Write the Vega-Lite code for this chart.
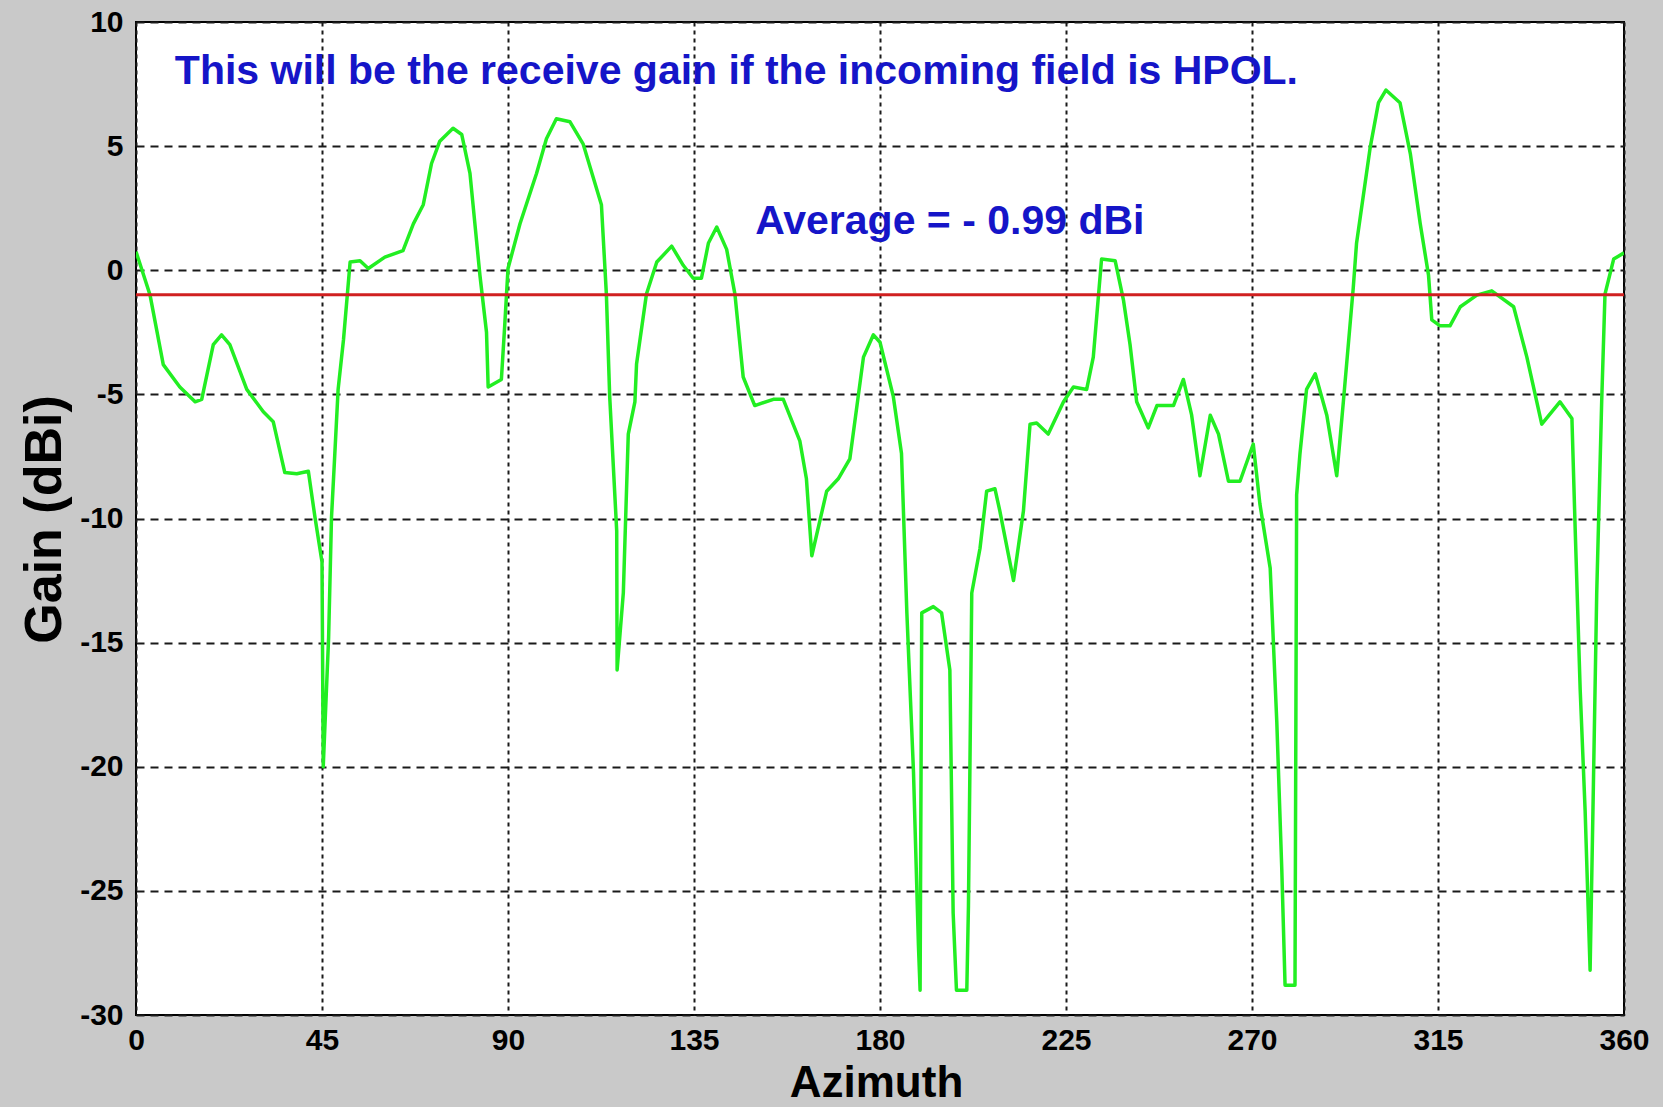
{
  "$schema": "https://vega.github.io/schema/vega-lite/v6.json",
  "width": 1488,
  "height": 993,
  "autosize": {"type": "none"},
  "padding": {"left": 136, "top": 22, "right": 39, "bottom": 92},
  "background": "#c9c9c9",
  "view": {"fill": "white", "stroke": "black", "strokeWidth": 2},
  "datasets": {
    "gain": [
      {"azimuth": 0, "gain": 0.75}, {"azimuth": 3.4, "gain": -1.0}, {"azimuth": 6.6, "gain": -3.8},
      {"azimuth": 10.6, "gain": -4.7}, {"azimuth": 14.3, "gain": -5.3}, {"azimuth": 15.9, "gain": -5.2},
      {"azimuth": 18.7, "gain": -3.0}, {"azimuth": 20.7, "gain": -2.6}, {"azimuth": 22.7, "gain": -3.0},
      {"azimuth": 26.8, "gain": -4.8}, {"azimuth": 30.8, "gain": -5.7}, {"azimuth": 33.2, "gain": -6.1},
      {"azimuth": 36.0, "gain": -8.15}, {"azimuth": 38.9, "gain": -8.2}, {"azimuth": 41.7, "gain": -8.1},
      {"azimuth": 43.3, "gain": -9.95}, {"azimuth": 45.0, "gain": -11.75}, {"azimuth": 45.3, "gain": -20.0},
      {"azimuth": 46.6, "gain": -14.8}, {"azimuth": 47.3, "gain": -9.95}, {"azimuth": 48.1, "gain": -7.4},
      {"azimuth": 48.9, "gain": -4.8}, {"azimuth": 50.2, "gain": -2.8}, {"azimuth": 51.8, "gain": 0.33},
      {"azimuth": 54.2, "gain": 0.38}, {"azimuth": 56.2, "gain": 0.07}, {"azimuth": 60.2, "gain": 0.53},
      {"azimuth": 64.6, "gain": 0.79}, {"azimuth": 67.1, "gain": 1.87}, {"azimuth": 69.5, "gain": 2.64},
      {"azimuth": 71.5, "gain": 4.3}, {"azimuth": 73.5, "gain": 5.2}, {"azimuth": 76.7, "gain": 5.72},
      {"azimuth": 78.8, "gain": 5.47}, {"azimuth": 80.8, "gain": 3.9}, {"azimuth": 83.2, "gain": -0.19},
      {"azimuth": 84.8, "gain": -2.5}, {"azimuth": 85.2, "gain": -4.7}, {"azimuth": 88.4, "gain": -4.4},
      {"azimuth": 89.2, "gain": -2.24}, {"azimuth": 90.0, "gain": 0.07}, {"azimuth": 92.9, "gain": 1.87},
      {"azimuth": 96.9, "gain": 3.9}, {"azimuth": 99.3, "gain": 5.3}, {"azimuth": 101.7, "gain": 6.1},
      {"azimuth": 105.0, "gain": 5.98}, {"azimuth": 108.2, "gain": 5.08}, {"azimuth": 112.6, "gain": 2.64},
      {"azimuth": 113.8, "gain": -0.96}, {"azimuth": 114.6, "gain": -5.07}, {"azimuth": 116.3, "gain": -10.5},
      {"azimuth": 116.4, "gain": -16.1}, {"azimuth": 117.9, "gain": -13.0}, {"azimuth": 119.1, "gain": -6.6},
      {"azimuth": 120.7, "gain": -5.3}, {"azimuth": 121.1, "gain": -3.78}, {"azimuth": 123.5, "gain": -0.96},
      {"azimuth": 126.0, "gain": 0.33}, {"azimuth": 129.6, "gain": 0.97}, {"azimuth": 132.4, "gain": 0.2},
      {"azimuth": 134.8, "gain": -0.32}, {"azimuth": 136.8, "gain": -0.32}, {"azimuth": 138.5, "gain": 1.1},
      {"azimuth": 140.5, "gain": 1.74}, {"azimuth": 142.9, "gain": 0.84}, {"azimuth": 144.9, "gain": -0.96},
      {"azimuth": 146.9, "gain": -4.3}, {"azimuth": 149.7, "gain": -5.45}, {"azimuth": 154.2, "gain": -5.2},
      {"azimuth": 156.6, "gain": -5.2}, {"azimuth": 160.6, "gain": -6.87}, {"azimuth": 162.2, "gain": -8.4},
      {"azimuth": 163.5, "gain": -11.5}, {"azimuth": 167.1, "gain": -8.9}, {"azimuth": 169.9, "gain": -8.4},
      {"azimuth": 172.7, "gain": -7.6}, {"azimuth": 176.0, "gain": -3.5}, {"azimuth": 178.4, "gain": -2.6},
      {"azimuth": 180.0, "gain": -2.9}, {"azimuth": 183.2, "gain": -5.07}, {"azimuth": 185.2, "gain": -7.38},
      {"azimuth": 186.5, "gain": -13.8}, {"azimuth": 188.1, "gain": -20.2}, {"azimuth": 189.3, "gain": -27.2},
      {"azimuth": 189.7, "gain": -29.0}, {"azimuth": 190.1, "gain": -13.8}, {"azimuth": 192.9, "gain": -13.55},
      {"azimuth": 194.9, "gain": -13.8}, {"azimuth": 196.9, "gain": -16.1}, {"azimuth": 197.7, "gain": -25.9},
      {"azimuth": 198.5, "gain": -29.0}, {"azimuth": 201.0, "gain": -29.0}, {"azimuth": 201.4, "gain": -25.6},
      {"azimuth": 202.2, "gain": -13.0}, {"azimuth": 204.2, "gain": -11.2}, {"azimuth": 205.8, "gain": -8.9},
      {"azimuth": 207.8, "gain": -8.8}, {"azimuth": 209.0, "gain": -9.7}, {"azimuth": 212.3, "gain": -12.5},
      {"azimuth": 214.7, "gain": -9.7}, {"azimuth": 216.3, "gain": -6.2}, {"azimuth": 217.9, "gain": -6.15},
      {"azimuth": 220.7, "gain": -6.6}, {"azimuth": 224.4, "gain": -5.3}, {"azimuth": 226.8, "gain": -4.7},
      {"azimuth": 230.0, "gain": -4.8}, {"azimuth": 231.6, "gain": -3.5}, {"azimuth": 233.6, "gain": 0.45},
      {"azimuth": 236.9, "gain": 0.38}, {"azimuth": 238.9, "gain": -1.2}, {"azimuth": 240.5, "gain": -3.0},
      {"azimuth": 242.1, "gain": -5.3}, {"azimuth": 244.9, "gain": -6.35}, {"azimuth": 247.0, "gain": -5.45},
      {"azimuth": 251.0, "gain": -5.45}, {"azimuth": 253.4, "gain": -4.4}, {"azimuth": 255.4, "gain": -5.84},
      {"azimuth": 257.4, "gain": -8.28}, {"azimuth": 259.9, "gain": -5.84}, {"azimuth": 261.9, "gain": -6.6},
      {"azimuth": 264.3, "gain": -8.5}, {"azimuth": 267.1, "gain": -8.5}, {"azimuth": 270.3, "gain": -7.0},
      {"azimuth": 271.9, "gain": -9.4}, {"azimuth": 274.4, "gain": -12.0}, {"azimuth": 276.0, "gain": -18.2},
      {"azimuth": 277.2, "gain": -24.1}, {"azimuth": 278.0, "gain": -28.8}, {"azimuth": 280.4, "gain": -28.8},
      {"azimuth": 280.6, "gain": -18.9}, {"azimuth": 280.8, "gain": -9.05}, {"azimuth": 281.6, "gain": -7.4},
      {"azimuth": 283.2, "gain": -4.8}, {"azimuth": 285.3, "gain": -4.17}, {"azimuth": 288.1, "gain": -5.84},
      {"azimuth": 290.5, "gain": -8.28}, {"azimuth": 292.1, "gain": -5.3}, {"azimuth": 294.5, "gain": -0.7},
      {"azimuth": 295.3, "gain": 1.1}, {"azimuth": 298.6, "gain": 4.95}, {"azimuth": 300.6, "gain": 6.75},
      {"azimuth": 302.4, "gain": 7.26}, {"azimuth": 305.8, "gain": 6.75}, {"azimuth": 308.3, "gain": 4.7},
      {"azimuth": 310.7, "gain": 1.87}, {"azimuth": 312.7, "gain": -0.19}, {"azimuth": 313.5, "gain": -2.0},
      {"azimuth": 315.5, "gain": -2.24}, {"azimuth": 317.9, "gain": -2.24}, {"azimuth": 320.4, "gain": -1.47},
      {"azimuth": 324.4, "gain": -1.0}, {"azimuth": 328.0, "gain": -0.83}, {"azimuth": 333.3, "gain": -1.47},
      {"azimuth": 336.5, "gain": -3.5}, {"azimuth": 340.1, "gain": -6.2}, {"azimuth": 344.5, "gain": -5.3},
      {"azimuth": 347.4, "gain": -5.97}, {"azimuth": 348.2, "gain": -10.5}, {"azimuth": 349.4, "gain": -16.9},
      {"azimuth": 350.6, "gain": -21.8}, {"azimuth": 351.8, "gain": -28.2}, {"azimuth": 352.6, "gain": -20.7},
      {"azimuth": 353.4, "gain": -13.0}, {"azimuth": 354.6, "gain": -5.3}, {"azimuth": 355.4, "gain": -0.96},
      {"azimuth": 357.5, "gain": 0.45}, {"azimuth": 360, "gain": 0.7}
    ],
    "average": [{"gain": -0.99}],
    "notes": [
      {"azimuth": 9.4, "gain": 7.51, "label": "This will be the receive gain if the incoming field is HPOL."},
      {"azimuth": 149.8, "gain": 1.47, "label": "Average = - 0.99 dBi"}
    ]
  },
  "layer": [
    {
      "data": {"name": "gain"},
      "mark": {"type": "line", "color": "#22ee22", "strokeWidth": 3.5, "strokeJoin": "round", "clip": true},
      "encoding": {
        "x": {
          "field": "azimuth", "type": "quantitative",
          "scale": {"domain": [0, 360], "nice": false, "zero": false},
          "axis": {
            "values": [0, 45, 90, 135, 180, 225, 270, 315, 360],
            "title": "Azimuth",
            "domain": false, "ticks": false,
            "grid": true, "gridColor": "#1a1a1a", "gridDash": [4, 4], "gridWidth": 2,
            "labelFont": "Liberation Sans", "labelFontWeight": "bold", "labelFontSize": 30, "labelColor": "black",
            "labelPadding": 10, "labelFlush": false, "labelOverlap": false, "labelBound": false,
            "titleFont": "Liberation Sans", "titleFontWeight": "bold", "titleFontSize": 44, "titleColor": "black",
            "titleX": 740, "titleY": 81, "titleBaseline": "alphabetic", "titleAlign": "center"
          }
        },
        "y": {
          "field": "gain", "type": "quantitative",
          "scale": {"domain": [-30, 10], "nice": false, "zero": false},
          "axis": {
            "values": [-30, -25, -20, -15, -10, -5, 0, 5, 10],
            "title": "Gain (dBi)",
            "labelExpr": "replace(datum.label, '\u2212', '-')",
            "domain": false, "ticks": false,
            "grid": true, "gridColor": "#1a1a1a", "gridDash": [8, 6], "gridWidth": 2,
            "labelFont": "Liberation Sans", "labelFontWeight": "bold", "labelFontSize": 30, "labelColor": "black",
            "labelPadding": 13, "labelFlush": false, "labelOverlap": false, "labelBound": false,
            "titleFont": "Liberation Sans", "titleFontWeight": "bold", "titleFontSize": 52, "titleColor": "black",
            "titleX": -76, "titleY": 497, "titleAngle": -90, "titleBaseline": "alphabetic", "titleAlign": "center"
          }
        }
      }
    },
    {
      "data": {"name": "average"},
      "mark": {"type": "rule", "color": "#d02020", "strokeWidth": 3},
      "encoding": {"y": {"field": "gain", "type": "quantitative"}}
    },
    {
      "data": {"name": "notes"},
      "mark": {"type": "text", "align": "left", "baseline": "alphabetic", "font": "Liberation Sans", "fontWeight": "bold", "fontSize": 41, "color": "#1515c8"},
      "encoding": {
        "x": {"field": "azimuth", "type": "quantitative"},
        "y": {"field": "gain", "type": "quantitative"},
        "text": {"field": "label"}
      }
    }
  ]
}
